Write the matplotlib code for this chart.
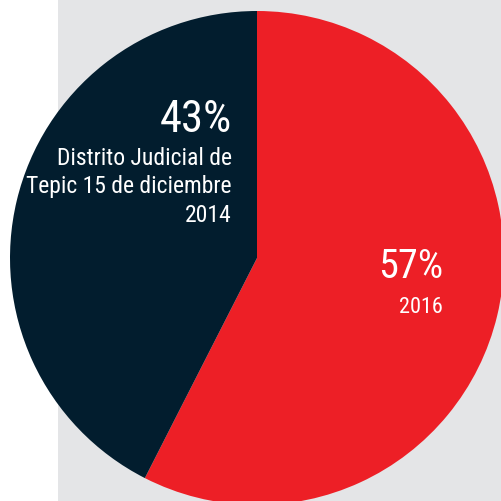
import matplotlib
matplotlib.use("Agg")
import matplotlib.pyplot as plt
from matplotlib.patches import Rectangle
from matplotlib import font_manager

labels = ["2016", "Distrito Judicial de\nTepic 15 de diciembre\n2014"]
values = [57.5, 42.5]
pct_labels = ["57%", "43%"]
colors = ["#ed1f26", "#021d2e"]

# pick a condensed font if available
fl = font_manager.fontManager.ttflist
names = sorted({f.name for f in fl})
font_kw = dict(family="DejaVu Sans")
chosen = None
for cand in ["Liberation Sans Narrow", "Roboto Condensed", "Open Sans Condensed",
             "Noto Sans Condensed"]:
    if cand in names:
        chosen = cand
        font_kw = dict(family=cand)
        break
if chosen is None:
    for f in fl:
        if f.name in ("DejaVu Sans", "Roboto", "Noto Sans", "Open Sans") and \
                str(f.stretch) in ("condensed", "semi-condensed", "extra-condensed"):
            font_kw = dict(family=f.name, stretch=f.stretch)
            chosen = f.name + " " + str(f.stretch)
            break

W = 502
fig = plt.figure(figsize=(5.02, 5.02), dpi=100)
fig.patch.set_facecolor("white")
ax = fig.add_axes([0, 0, 1, 1])
ax.add_patch(Rectangle((58, -10), 500, 530, facecolor="#e4e5e7",
                       edgecolor="none", zorder=0))

ax.pie(values, colors=colors, startangle=90, counterclock=False,
       center=(257, W - 259), radius=247, frame=True,
       wedgeprops=dict(linewidth=0, zorder=1))
ax.set_xlim(0, W)
ax.set_ylim(0, W)
ax.set_aspect("equal")
ax.axis("off")

cond = chosen is not None
s = 1.0 if cond else 0.8
wt = "normal"
# navy slice text
ax.text(232, W - 132, pct_labels[1], ha="right", va="baseline",
        fontsize=32 * s, color="white", zorder=3, weight=wt, **font_kw)
for i, line in enumerate(labels[1].split("\n")):
    ax.text(232, W - (165 + i * 28.5), line, ha="right", va="baseline",
            fontsize=17 * s, color="white", zorder=3, weight=wt, **font_kw)
# red slice text
ax.text(443, W - 278, pct_labels[0], ha="right", va="baseline",
        fontsize=29 * s, color="white", zorder=3, weight=wt, **font_kw)
ax.text(443, W - 313, labels[0], ha="right", va="baseline",
        fontsize=16 * s, color="white", zorder=3, weight=wt, **font_kw)

fig.savefig("out.png", dpi=100)
